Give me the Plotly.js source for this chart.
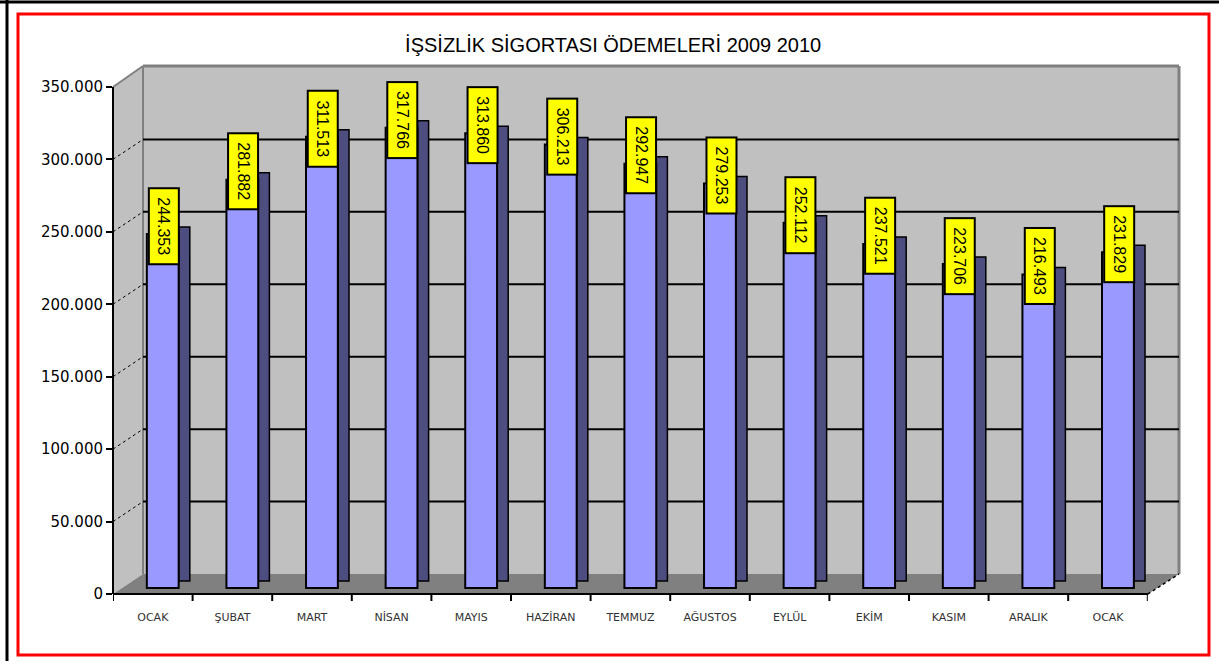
<!DOCTYPE html>
<html>
<head>
<meta charset="utf-8">
<script src="https://cdn.plot.ly/plotly-3.0.1.min.js"></script>
<style>html,body{margin:0;padding:0;background:#fff;}#chart{width:1219px;height:661px;}</style>
</head>
<body>
<div id="chart"></div>
<script>
// ---- data ----
const titleText = 'İŞSİZLİK SİGORTASI ÖDEMELERİ 2009 2010';
const categories = ['OCAK','ŞUBAT','MART','NİSAN','MAYIS','HAZİRAN','TEMMUZ','AĞUSTOS','EYLÜL','EKİM','KASIM','ARALIK','OCAK'];
const values = [244353, 281882, 311513, 317766, 313860, 306213, 292947, 279253, 252112, 237521, 223706, 216493, 231829];
const yTickVals = [0, 50000, 100000, 150000, 200000, 250000, 300000, 350000];
const yTickText = ['0', '50.000', '100.000', '150.000', '200.000', '250.000', '300.000', '350.000'];

// ---- geometry (pixels) ----
const W0 = 1219, H0 = 661;
const L = 113, R = 1180, T = 66, B = 594;
const PW = R - L, PH = B - T;
const k = 507 / 350000;          // px per unit
const DEPTH_X = 30, DEPTH_Y = 20; // 3D wall offset
const catW = 79.6;
const frontRight = L + catW * categories.length;
const px = X => (X - L) / PW;
const py = Y => (B - Y) / PH;
const fmt = v => String(v).replace(/\B(?=(\d{3})+(?!\d))/g, '.');
const idx = categories.map((c, i) => i);

const shapes = [];
const wallL = L + DEPTH_X, wallB = B - DEPTH_Y, wallR = 1179;
// left wall
shapes.push({type:'path', xref:'paper', yref:'paper', layer:'below',
  path:`M${px(L)},${py(B)} L${px(L)},${py(87)} L${px(wallL)},${py(T)} L${px(wallL)},${py(wallB)} Z`,
  fillcolor:'#c0c0c0', line:{width:0}});
// back wall
shapes.push({type:'rect', xref:'paper', yref:'paper', layer:'below',
  x0:px(wallL), x1:px(wallR), y0:py(wallB), y1:py(T), fillcolor:'#c0c0c0', line:{width:0}});
// floor
shapes.push({type:'path', xref:'paper', yref:'paper', layer:'below',
  path:`M${px(L)},${py(B)} L${px(wallL)},${py(wallB)} L${px(wallR)},${py(wallB)} L${px(frontRight)},${py(B)} Z`,
  fillcolor:'#808080', line:{width:0}});
// wall edges
const gray = '#808080';
shapes.push({type:'line', xref:'paper', yref:'paper', layer:'below', x0:px(wallL), x1:px(wallL), y0:py(wallB), y1:py(T), line:{color:gray, width:2}});
shapes.push({type:'line', xref:'paper', yref:'paper', layer:'below', x0:px(wallL), x1:px(wallR), y0:py(T), y1:py(T), line:{color:gray, width:3}});
shapes.push({type:'line', xref:'paper', yref:'paper', layer:'below', x0:px(wallR), x1:px(wallR), y0:py(T), y1:py(wallB), line:{color:gray, width:3}});
shapes.push({type:'line', xref:'paper', yref:'paper', layer:'below', x0:px(L), x1:px(wallL), y0:py(87), y1:py(T), line:{color:gray, width:2}});
// gridlines on back wall + diagonals on side wall
yTickVals.forEach(v => {
  if (v === 0 || v === 350000) return;
  const yb = wallB - v * k, yf = B - v * k;
  shapes.push({type:'line', xref:'paper', yref:'paper', layer:'below', x0:px(wallL), x1:px(wallR), y0:py(yb), y1:py(yb), line:{color:'#000', width:2}});
  shapes.push({type:'line', xref:'paper', yref:'paper', layer:'below', x0:px(L), x1:px(wallL), y0:py(yf), y1:py(yb), line:{color:'#000', width:1, dash:'dot'}});
});
// axis lines
shapes.push({type:'line', xref:'paper', yref:'paper', layer:'below', x0:px(L), x1:px(L), y0:py(B), y1:py(87), line:{color:'#000', width:2}});
shapes.push({type:'line', xref:'paper', yref:'paper', layer:'below', x0:px(L), x1:px(frontRight), y0:py(B), y1:py(B), line:{color:'#000', width:2}});
shapes.push({type:'line', xref:'paper', yref:'paper', layer:'below', x0:px(frontRight), x1:px(wallR), y0:py(B), y1:py(wallB), line:{color:'#000', width:1.5, dash:'dot'}});
// x tick marks at category boundaries
for (let i = 0; i <= categories.length; i++) {
  shapes.push({type:'line', xref:'x', yref:'paper', layer:'above', x0:i - 0.5, x1:i - 0.5, y0:py(B), y1:py(B + 7), line:{color:'#000', width:2}});
}
// page borders
shapes.push({type:'line', xref:'paper', yref:'paper', layer:'above', x0:px(7), x1:px(7), y0:py(0), y1:py(H0), line:{color:'#000', width:3}});
shapes.push({type:'line', xref:'paper', yref:'paper', layer:'above', x0:px(0), x1:px(W0), y0:py(2), y1:py(2), line:{color:'#000', width:3}});
shapes.push({type:'rect', xref:'paper', yref:'paper', layer:'above', x0:px(18), x1:px(1209), y0:py(655), y1:py(14), line:{color:'#ff0000', width:3}, fillcolor:'rgba(0,0,0,0)'});

const traces = [
  {type:'scatter', x:[], y:[], xaxis:'x', yaxis:'y', hoverinfo:'skip', showlegend:false},
  {type:'bar', x:idx, y:values, xaxis:'x', yaxis:'y2', width:0.14, offset:0.325,
   marker:{color:'#4d4d80', line:{color:'#000', width:1.5}}, hoverinfo:'skip', showlegend:false},
  {type:'bar', x:idx, y:values, xaxis:'x', yaxis:'y3', width:0.4, offset:-0.075,
   marker:{color:'#9999ff', line:{color:'#000', width:2}}, hoverinfo:'skip', showlegend:false}
];

const annotations = values.map((v, i) => ({
  x: i, y: v, xref:'x', yref:'y3', xshift: 11, yshift: 8,
  text: fmt(v), showarrow:false, textangle: 90,
  font:{family:'Liberation Sans, Arial, sans-serif', size:16, color:'#000'},
  bgcolor:'#ffff00', bordercolor:'#000', borderwidth:2, borderpad:2,
  width:70, height:24, align:'center', valign:'middle'
}));

const layout = {
  width: W0, height: H0,
  margin: {l: L, r: W0 - R, t: T, b: H0 - B, pad: 0},
  paper_bgcolor:'#ffffff', plot_bgcolor:'rgba(0,0,0,0)',
  showlegend:false, barmode:'overlay',
  title: {text: titleText, x: 0.503, xref:'container', xanchor:'center', y: 1 - 45 / H0, yref:'container', yanchor:'middle',
          font:{family:'Liberation Sans, Arial, sans-serif', size:20, color:'#000'}},
  xaxis: {domain:[0, (frontRight - L) / PW], range:[-0.5, categories.length - 0.5],
          tickmode:'array', tickvals: idx, ticktext: categories,
          ticks:'outside', ticklen:13, tickcolor:'rgba(0,0,0,0)',
          showgrid:false, zeroline:false, showline:false, fixedrange:true,
          tickfont:{family:'DejaVu Sans, sans-serif', size:11, color:'#333'}},
  yaxis: {domain:[0,1], range:[0, PH / k], tickmode:'array', tickvals: yTickVals, ticktext: yTickText,
          ticks:'outside', ticklen:6, tickwidth:2, tickcolor:'#000',
          showgrid:false, zeroline:false, showline:false, fixedrange:true,
          tickfont:{family:'DejaVu Sans, sans-serif', size:15, color:'#000'}},
  yaxis2: {overlaying:'y', range:[-13 / k, (PH - 13) / k], visible:false, fixedrange:true},
  yaxis3: {overlaying:'y', range:[-6 / k, (PH - 6) / k], visible:false, fixedrange:true},
  shapes: shapes,
  annotations: annotations
};

Plotly.newPlot('chart', traces, layout, {displayModeBar:false, staticPlot:true});
</script>
</body>
</html>
